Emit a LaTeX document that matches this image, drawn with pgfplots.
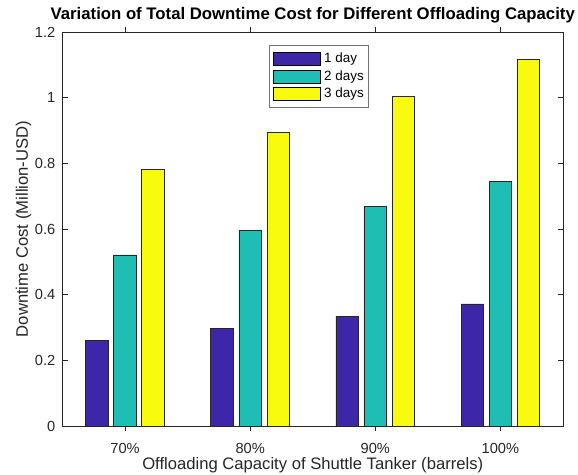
\documentclass[border=0pt]{standalone}
\usepackage{pgfplots}
\pgfplotsset{compat=1.18}
\usepackage{fontspec}
\setmainfont{Liberation Sans}
\definecolor{c1}{RGB}{62,38,168}
\definecolor{c2}{RGB}{30,190,180}
\definecolor{c3}{RGB}{249,251,14}
\definecolor{tx}{RGB}{38,38,38}
\begin{document}
\begin{tikzpicture}
\begin{axis}[
  scale only axis,
  width=500.5bp, height=394bp,
  xmin=0.5, xmax=4.5, ymin=0, ymax=1.2,
  xtick={1,2,3,4},
  xticklabels={70\%,80\%,90\%,100\%},
  ytick={0,0.2,0.4,0.6,0.8,1,1.2},
  yticklabels={0,0.2,0.4,0.6,0.8,1,1.2},
  tick align=inside,
  major tick length=5bp,
  tick style={tx, line width=0.6bp},
  axis line style={tx, line width=0.6bp},
  ticklabel style={font=\fontsize{14.7}{16}\selectfont, text=tx},
  xticklabel style={anchor=base, yshift=-22bp, inner sep=0pt},
  yticklabel style={anchor=east, xshift=-7bp, inner sep=0pt},
  /pgf/number format/assume math mode=true,
  xlabel={Offloading Capacity of Shuttle Tanker (barrels)},
  ylabel={Downtime Cost (Million-USD)},
  label style={font=\fontsize{16.7}{18}\selectfont, text=tx, inner sep=0pt},
  xlabel style={at={(axis description cs:0.5,0)}, anchor=base, yshift=-43bp},
  ylabel style={at={(axis description cs:0,0.5)}, anchor=base, yshift=34.5bp},
  title={\textbf{Variation of Total Downtime Cost for Different Offloading Capacity}},
  title style={font=\fontsize{16.8}{18}\selectfont, at={(axis description cs:0.5,1)}, anchor=base, yshift=7bp, inner sep=0pt},
  ybar,
  bar width=0.181,
  legend style={at={(0.413,0.967)}, anchor=north west, draw=black!55, line width=0.6bp,
     font=\fontsize{13.5}{15}\selectfont, text=black,
     inner xsep=3bp, inner ysep=5.5bp, row sep=2.3bp,
     nodes={inner sep=1.5bp, text height=10bp, text depth=2.5bp},
     cells={anchor=west}},
  legend image code/.code={\draw[#1, draw=black, line width=0.6bp] (0bp,-6.5bp) rectangle (47bp,6.5bp); \path (-0.5bp,0bp) (49bp,0bp);},
]
\addplot[fill=c1, draw=black!85, line width=0.7bp, bar shift=-0.224] coordinates {(1,0.261) (2,0.298) (3,0.335) (4,0.372)};
\addplot[fill=c2, draw=black!85, line width=0.7bp, bar shift=0] coordinates {(1,0.521) (2,0.595) (3,0.669) (4,0.744)};
\addplot[fill=c3, draw=black!85, line width=0.7bp, bar shift=0.224] coordinates {(1,0.782) (2,0.893) (3,1.004) (4,1.117)};
\legend{1 day, 2 days, 3 days}
\end{axis}
\pgfresetboundingbox
\path (-62.5bp,-49bp) rectangle (515.5bp,426bp);
\end{tikzpicture}
\end{document}
